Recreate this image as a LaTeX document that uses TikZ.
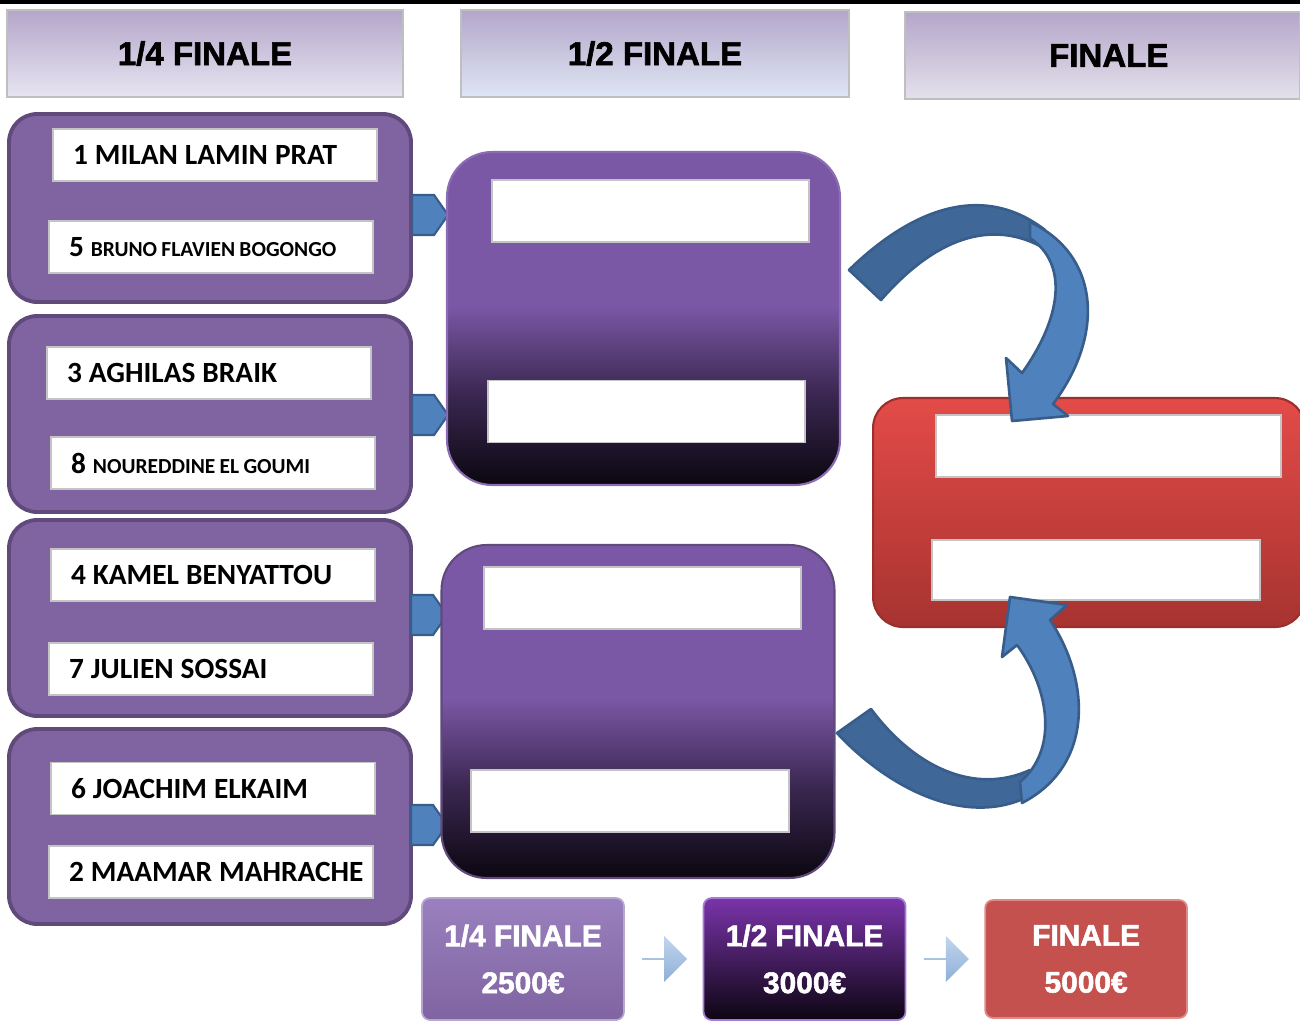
\documentclass[tikz,border=0pt]{standalone}
\usepackage{fontspec}
\setmainfont{Liberation Sans}
\newfontfamily\heavyfont[FakeBold=1.8]{Liberation Sans Bold}
\newfontfamily\namefont{Carlito}
\usetikzlibrary{positioning}
\usetikzlibrary{shapes.symbols}
\usetikzlibrary{shapes.arrows}

\definecolor{qfill}{HTML}{8064A2}
\definecolor{qline}{HTML}{5F4A7B}
\definecolor{semitop}{HTML}{7B58A6}
\definecolor{semimid}{HTML}{3C2853}
\definecolor{semibot}{HTML}{0B0710}
\definecolor{semiline}{HTML}{8B6DB3}
\definecolor{arrowblue}{HTML}{4F81BD}
\definecolor{arrowdark}{HTML}{3F6898}
\definecolor{arrowline}{HTML}{385D8A}
\definecolor{finaltop}{HTML}{E34B48}
\definecolor{finalbot}{HTML}{A73330}
\definecolor{finalline}{HTML}{9B2F2C}
\definecolor{boxline}{HTML}{C4C4C4}
\definecolor{hdline}{HTML}{BFBFBF}
\definecolor{hdtop}{HTML}{B4A6CA}
\definecolor{hdlav}{HTML}{DDD8EA}
\definecolor{hdpale}{HTML}{E7E5F1}
\definecolor{hdblue}{HTML}{C5D4EE}
\definecolor{hdpaleblue}{HTML}{DEE6F4}
\definecolor{hdpink}{HTML}{E8B9BA}
\definecolor{hdgrey}{HTML}{E4E1EB}
\definecolor{prizetop}{HTML}{9A80BE}
\definecolor{prizeline}{HTML}{B8A6D2}
\definecolor{halftop}{HTML}{7A34AA}
\definecolor{halfmid}{HTML}{3E1A5C}
\definecolor{halfbot}{HTML}{0C0512}
\definecolor{halfline}{HTML}{A77AD6}
\definecolor{finred}{HTML}{C4514E}
\definecolor{finline}{HTML}{E08A88}
\definecolor{steptop}{HTML}{C2D5EC}
\definecolor{stepbot}{HTML}{8EAFD9}

\newcommand\namegap{\spaceskip=0.24em\relax}
\newcommand\smallname[1]{{\fontsize{12.2}{14}\selectfont\spaceskip=0.2em\relax #1}}

\pgfdeclareverticalshading{semishade}{100bp}{color(0bp)=(semibot); color(25bp)=(semibot); color(39bp)=(semimid); color(52bp)=(semitop); color(100bp)=(semitop)}

\tikzset{
  header/.style={draw=hdline, line width=1pt, minimum height=1.74cm,
    font=\heavyfont\fontsize{18.8}{22}\selectfont},
  quarter/.style={draw=qline, fill=qfill, line width=2.2pt, rounded corners=0.56cm,
    minimum width=8.04cm},
  namebox/.style={draw=boxline, fill=white, line width=1pt, minimum height=1.04cm,
    text width=6.18cm, inner xsep=0.15cm, align=left,
    execute at begin node={\namegap\hspace*{0.25cm}},
    font=\namefont\fontsize{16.7}{18}\selectfont\bfseries},
  pent/.style={signal, signal to=east, fill=arrowblue, draw=arrowline, line width=1.2pt,
    minimum width=0.72cm, minimum height=0.8cm, inner sep=0pt, signal pointer angle=110},
  semi/.style={draw=semiline, line width=1.2pt, shade, shading=semishade,
    rounded corners=0.9cm, minimum width=7.86cm, minimum height=6.66cm},
  blank/.style={draw=boxline, fill=white, line width=1pt, minimum height=1.24cm},
  final/.style={draw=finalline, line width=1.2pt, top color=finaltop, bottom color=finalbot,
    rounded corners=0.6cm, minimum width=8.64cm, minimum height=4.58cm},
  backarrow/.style={fill=arrowdark, draw=arrowline, line width=1.5pt, line join=round},
  frontarrow/.style={fill=arrowblue, draw=arrowline, line width=1.5pt, line join=round},
  prize/.style={rounded corners=0.16cm, minimum width=4.04cm, minimum height=2.44cm,
    align=center, text=white, line width=1pt,
    font=\heavyfont\fontsize{17}{26.7}\selectfont},
  prizearrow/.style={single arrow, top color=steptop, bottom color=stepbot,
    draw=none, minimum height=0.9cm, minimum width=0.92cm, inner sep=0pt,
    single arrow head extend=0.2cm}
}

\begin{document}
\begin{tikzpicture}[x=0.02cm,y=-0.02cm]
\useasboundingbox (0,0) rectangle (1300,1021);
\fill[black] (0,0) rectangle (1300,4);

% round titles
\node[header, minimum width=7.92cm, top color=hdtop, middle color=hdlav,
  bottom color=hdpale] (h1) at (205,53.5) {1/4 FINALE};
\node[header, minimum width=7.76cm, top color=hdtop, middle color=hdblue,
  bottom color=hdpaleblue] (h2) at (655,53.5) {1/2 FINALE};
\node[header, minimum width=7.9cm, top color=hdtop, middle color=hdpink,
  bottom color=hdgrey] (h3) at (1102.5,55.5) {\hspace{0.25cm}FINALE};

% quarter finals
\node[quarter, minimum height=3.76cm] (q1) at (210,208) {};
\node[quarter, minimum height=3.92cm] (q2) at (210,414) {};
\node[quarter, minimum height=3.92cm] (q3) at (210,618) {};
\node[quarter, minimum height=3.9cm] (q4) at (210,826.5) {};

\node[namebox] (n1) at (215,155) {1 MILAN LAMIN PRAT};
\node[namebox] (n5) at (211,247) {5 \smallname{BRUNO FLAVIEN BOGONGO}};
\node[namebox] (n3) at (209,373) {3 AGHILAS BRAIK};
\node[namebox] (n8) at (213,463) {8 \smallname{NOUREDDINE EL GOUMI}};
\node[namebox] (n4) at (213,575) {4 KAMEL BENYATTOU};
\node[namebox] (n7) at (211,669) {7 JULIEN SOSSAI};
\node[namebox] (n6) at (213,788.5) {6 JOACHIM ELKAIM};
\node[namebox] (n2) at (211,872) {2 MAAMAR MAHRACHE};

\node[pent, anchor=west] (p1) at (411,215) {};
\node[pent, anchor=west] (p2) at (411,415) {};
\node[pent, anchor=west] (p3) at (410,615) {};
\node[pent, anchor=west] (p4) at (410,825) {};

% semi finals
\node[semi] (s1) at (643.5,318.5) {};
\node[semi, draw=qline] (s2) at (638,711.5) {};
\node[blank, minimum width=6.34cm] (w1) at (650.5,211) {};
\node[blank, minimum width=6.34cm] (w2) at (646.5,411.5) {};
\node[blank, minimum width=6.34cm] (w3) at (642.5,598) {};
\node[blank, minimum width=6.36cm] (w4) at (630,801) {};

% final
\node[final] (f) at (1089,512.5) {};
\node[blank, minimum width=6.9cm] (fw1) at (1108.5,446) {};
\node[blank, minimum width=6.56cm, minimum height=1.2cm] (fw2) at (1096,570) {};

% curved arrows to the final
\path[backarrow] (849,270) .. controls (900,220) and (975,176) .. (1045,230)
  -- (1040,246) .. controls (990,220) and (935,238) .. (881,300) -- cycle;
\path[frontarrow] (1030,222) .. controls (1100,255) and (1105,335) .. (1053,404)
  -- (1068,416) -- (1012,421) -- (1006,358) -- (1022,373)
  .. controls (1060,320) and (1070,265) .. (1030,238) -- cycle;
\path[backarrow] (837,733) .. controls (885,785) and (970,835) .. (1040,790)
  -- (1030,770) .. controls (975,795) and (915,768) .. (871,709) -- cycle;
\path[frontarrow] (1022,803) .. controls (1095,765) and (1090,680) .. (1050,620)
  -- (1067,605) -- (1010,597) -- (1002,657) -- (1017,645)
  .. controls (1050,690) and (1058,750) .. (1020,782) -- cycle;

% prize money
\node[prize, draw=prizeline, top color=prizetop, bottom color=qfill] (b1) at (523,959)
  {1/4 FINALE\\2500€};
\node[prizearrow, right=0.34cm of b1] (a1) {};
\node[prize, draw=halfline, top color=halftop, middle color=halfmid,
  bottom color=halfbot, right=0.3cm of a1] (b2) {1/2 FINALE\\3000€};
\node[prizearrow, right=0.34cm of b2] (a2) {};
\node[prize, draw=finline, fill=finred, minimum height=2.36cm,
  right=0.3cm of a2] (b3) {FINALE\\5000€};
\end{tikzpicture}
\end{document}
